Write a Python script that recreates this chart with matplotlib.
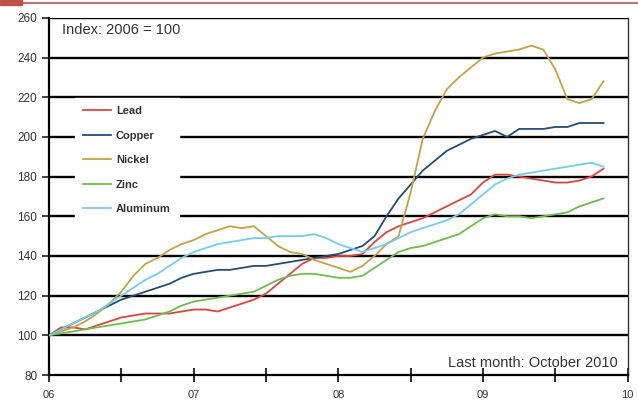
import numpy as np
import matplotlib
matplotlib.use('Agg')
import matplotlib.pyplot as plt
import matplotlib.lines as mlines

plt.rcParams['font.family'] = ['Liberation Sans', 'DejaVu Sans']

# monthly index values, Jan 2006 onwards (2006 = 100)
months = np.arange(47)
lead = [100, 104, 104, 103, 105, 107, 109, 110, 111, 111, 111, 112, 113, 113, 112, 114,
        116, 118, 121, 126, 131, 136, 139, 139, 140, 140, 141, 147, 152, 155, 157, 159,
        162, 165, 168, 171, 177, 181, 181, 180, 179, 178, 177, 177, 178, 180, 184]
copper = [100, 103, 106, 109, 112, 115, 118, 120, 122, 124, 126, 129, 131, 132, 133, 133,
          134, 135, 135, 136, 137, 138, 139, 140, 141, 143, 145, 150, 160, 169, 176, 183,
          188, 193, 196, 199, 201, 203, 200, 204, 204, 204, 205, 205, 207, 207, 207]
nickel = [100, 102, 104, 107, 111, 116, 122, 130, 136, 139, 143, 146, 148, 151, 153, 155,
          154, 155, 150, 145, 142, 141, 138, 136, 134, 132, 135, 140, 146, 150, 172, 199,
          213, 224, 230, 235, 240, 242, 243, 244, 246, 244, 234, 219, 217, 219, 228]
zinc = [100, 101, 102, 103, 104, 105, 106, 107, 108, 110, 112, 115, 117, 118, 119, 120,
        121, 122, 125, 128, 130, 131, 131, 130, 129, 129, 130, 134, 138, 142, 144, 145,
        147, 149, 151, 155, 159, 161, 160, 160, 159, 160, 161, 162, 165, 167, 169]
aluminum = [100, 103, 106, 109, 112, 116, 120, 124, 128, 131, 135, 139, 142, 144, 146, 147,
            148, 149, 149, 150, 150, 150, 151, 149, 146, 144, 142, 144, 146, 149, 152, 154,
            156, 158, 161, 166, 171, 176, 179, 181, 182, 183, 184, 185, 186, 187, 185]

series = [('Lead', lead, '#e0453c'),
          ('Copper', copper, '#1f4e79'),
          ('Nickel', nickel, '#c9a23f'),
          ('Zinc', zinc, '#6cbf48'),
          ('Aluminum', aluminum, '#72cdee')]
year_labels = ['06', '07', '08', '09', '10']

fig = plt.figure(figsize=(6.38, 4.05), dpi=100)
ax = fig.add_axes([0.0768, 0.074, 0.907, 0.882])

x = months / 12.0
for name, vals, col in series:
    ax.plot(x, vals, color=col, lw=1.3, label=name, zorder=3)

ax.set_xlim(0, 4)
ax.set_ylim(80, 260)
ax.set_yticks(np.arange(80, 261, 20))
ax.set_xticks(range(5))
ax.set_xticklabels(year_labels)
ax.set_xticks(np.arange(0.5, 4, 1), minor=True)

for v in range(100, 261, 20):
    ax.axhline(v, color='black', lw=1.7, zorder=1)

for s in ['left', 'bottom']:
    ax.spines[s].set_linewidth(1.6)
ax.spines['top'].set_visible(False)
ax.spines['right'].set_linewidth(1.0)
ax.spines['right'].set_color('#333333')

ax.tick_params(axis='x', which='both', direction='inout', length=10, width=1.5,
               labelsize=8, colors='#333333', pad=6)
ax.tick_params(axis='y', direction='out', length=5, width=1.3,
               labelsize=8.5, colors='#333333')

ax.text(0.09, 254, 'Index: 2006 = 100', fontsize=10.5, color='#333333',
        va='center', ha='left')
ax.text(3.93, 86, 'Last month: October 2010', fontsize=10.5, color='#333333',
        va='center', ha='right')

leg = ax.legend(loc='upper left', bbox_to_anchor=(0.035, 0.79), frameon=True,
                fancybox=False, framealpha=1, edgecolor='white',
                prop={'size': 8, 'weight': 'bold'}, handlelength=2.6,
                labelspacing=1.3, borderpad=0.7, handletextpad=0.4)
leg.set_zorder(5)
for t in leg.get_texts():
    t.set_color('#333333')

# red header marks
fig.add_artist(mlines.Line2D([0, 1], [0.992, 0.992], color='#c0504d', lw=1.2,
                             transform=fig.transFigure))
fig.add_artist(plt.Rectangle((0, 0.988), 0.034, 0.012, color='#c0504d',
                             transform=fig.transFigure))

fig.savefig('out.png', dpi=100)
